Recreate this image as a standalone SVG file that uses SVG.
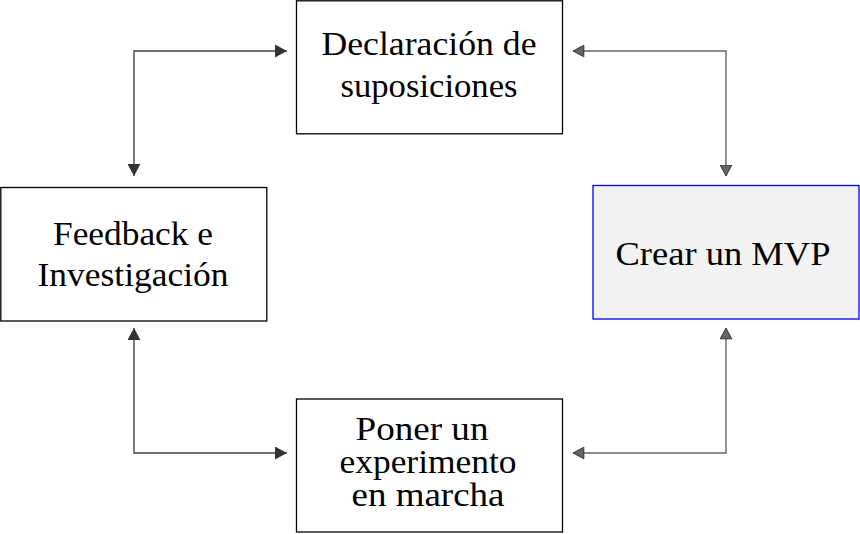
<svg xmlns="http://www.w3.org/2000/svg" width="860" height="534" viewBox="0 0 860 534">
<defs>
<style>
.box{fill:#fff;stroke:#000;stroke-width:1.3}
.sel{fill:#f2f2f2;stroke:#0000ff;stroke-width:1.3}
.t{font-family:"Liberation Serif","DejaVu Serif",serif;font-size:33px;fill:#000;text-anchor:middle}
.cd{fill:none;stroke:#444;stroke-width:1.4}
.cl{fill:none;stroke:#666;stroke-width:1.4}
</style>
<marker id="ad" viewBox="0 0 12 13" refX="12" refY="6.5" markerWidth="12" markerHeight="13" markerUnits="userSpaceOnUse" orient="auto-start-reverse">
<path d="M0,0 L12,6.5 L0,13 Z" fill="#333"/>
</marker>
<marker id="al" viewBox="0 0 12 13" refX="11.5" refY="6.5" markerWidth="12" markerHeight="13" markerUnits="userSpaceOnUse" orient="auto-start-reverse">
<path d="M0.7,0.7 L11.3,6.5 L0.7,12.3 Z" fill="#666" stroke="#333" stroke-width="1"/>
</marker>
</defs>
<g id="connectors">
<path class="cd" d="M134,176 L134,51 L287,51" marker-start="url(#ad)" marker-end="url(#ad)"/>
<path class="cl" d="M573,51 L726,51 L726,176" marker-start="url(#al)" marker-end="url(#al)"/>
<path class="cl" d="M726,328 L726,453 L573,453" marker-start="url(#al)" marker-end="url(#al)"/>
<path class="cd" d="M134,328 L134,453 L287,453" marker-start="url(#ad)" marker-end="url(#ad)"/>
</g>
<g id="n-declaracion">
<rect class="box" x="296.5" y="0.8" width="266" height="133"/>
<text class="t" x="429" y="55" textLength="215" lengthAdjust="spacingAndGlyphs">Declaración de</text>
<text class="t" x="429" y="97" textLength="177" lengthAdjust="spacingAndGlyphs">suposiciones</text>
</g>
<g id="n-feedback">
<rect class="box" x="0.8" y="187.5" width="266" height="133.5"/>
<text class="t" x="133" y="245" textLength="160" lengthAdjust="spacingAndGlyphs">Feedback e</text>
<text class="t" x="133" y="286" textLength="191" lengthAdjust="spacingAndGlyphs">Investigación</text>
</g>
<g id="n-mvp">
<rect class="sel" x="593" y="185.5" width="266" height="133.5"/>
<text class="t" x="723" y="265" textLength="215" lengthAdjust="spacingAndGlyphs">Crear un MVP</text>
</g>
<g id="n-experimento">
<rect class="box" x="296.5" y="399" width="266" height="133"/>
<text class="t" x="422" y="440" textLength="133" lengthAdjust="spacingAndGlyphs">Poner un</text>
<text class="t" x="428" y="473" textLength="177" lengthAdjust="spacingAndGlyphs">experimento</text>
<text class="t" x="428" y="506" textLength="153" lengthAdjust="spacingAndGlyphs">en marcha</text>
</g>
</svg>
